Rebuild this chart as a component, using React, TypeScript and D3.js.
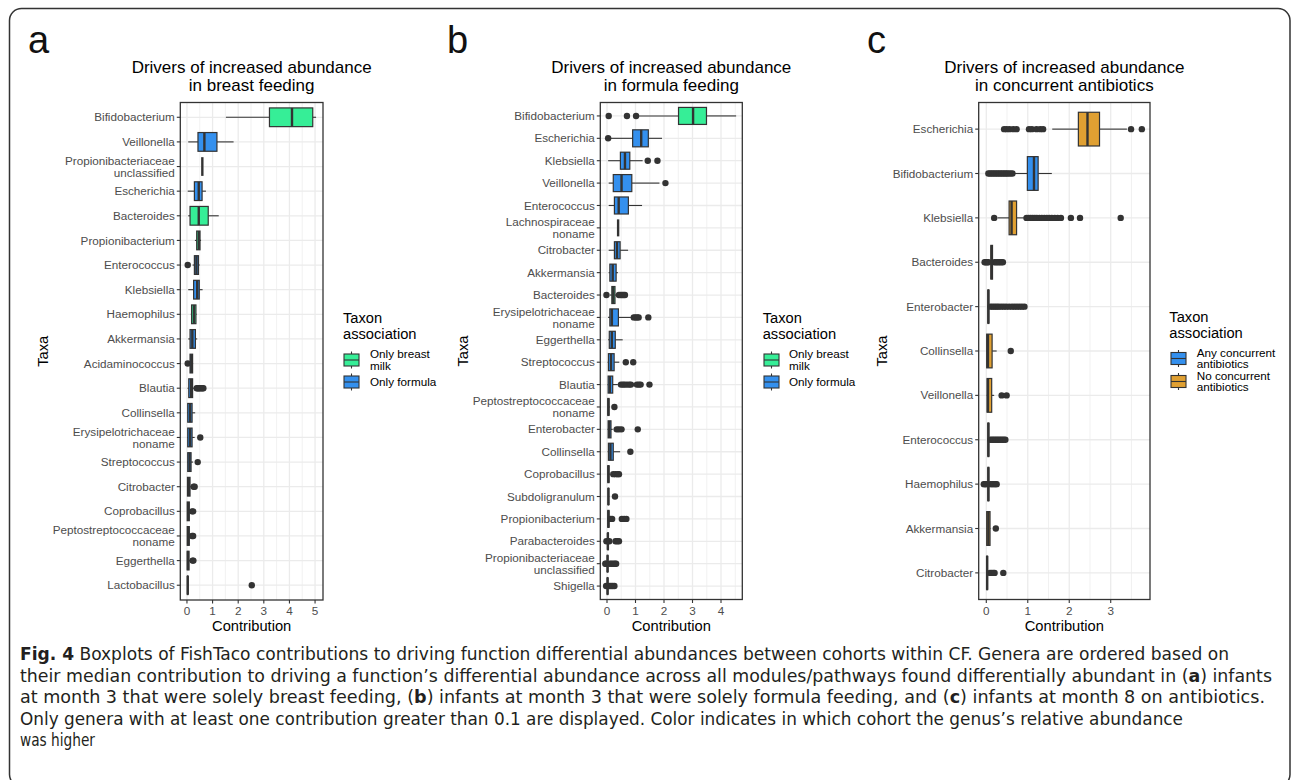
import React from 'react';
import * as d3 from 'd3';

const GREEN = '#36EE97';
const BLUE = '#3490EE';
const ORANGE = '#E0A032';
const FILLS: Record<string, string> = { breast: GREEN, formula: BLUE, any: BLUE, none: ORANGE };

// ---------- Panel a : breast feeding ----------
const taxaA = ['Bifidobacterium', 'Veillonella', 'Propionibacteriaceae\nunclassified', 'Escherichia', 'Bacteroides',
  'Propionibacterium', 'Enterococcus', 'Klebsiella', 'Haemophilus', 'Akkermansia', 'Acidaminococcus', 'Blautia',
  'Collinsella', 'Erysipelotrichaceae\nnoname', 'Streptococcus', 'Citrobacter', 'Coprobacillus',
  'Peptostreptococcaceae\nnoname', 'Eggerthella', 'Lactobacillus'];
const lowA = [1.52, 0.05, 0.6, 0.03, 0.05, 0.31, 0.22, 0.05, 0.15, 0.05, 0.08, 0.02, 0.0, 0.0, 0.0, 0.0, 0.0, 0.0, 0.0, 0.02];
const q1A = [3.22, 0.43, 0.6, 0.29, 0.12, 0.38, 0.29, 0.26, 0.18, 0.12, 0.12, 0.07, 0.03, 0.03, 0.03, 0.02, 0.01, 0.01, 0.01, 0.02];
const medA = [4.10, 0.68, 0.6, 0.46, 0.46, 0.46, 0.37, 0.40, 0.27, 0.21, 0.17, 0.16, 0.12, 0.12, 0.10, 0.07, 0.05, 0.05, 0.04, 0.03];
const q3A = [4.91, 1.17, 0.6, 0.59, 0.83, 0.51, 0.45, 0.48, 0.35, 0.33, 0.22, 0.22, 0.20, 0.20, 0.16, 0.12, 0.09, 0.09, 0.08, 0.04];
const highA = [5.04, 1.82, 0.6, 0.74, 1.24, 0.55, 0.50, 0.61, 0.38, 0.40, 0.24, 0.32, 0.32, 0.30, 0.24, 0.18, 0.14, 0.13, 0.12, 0.04];
const groupA = ['breast', 'formula', 'formula', 'formula', 'breast', 'breast', 'formula', 'formula', 'breast', 'formula',
  'formula', 'formula', 'formula', 'formula', 'formula', 'formula', 'formula', 'formula', 'formula', 'formula'];
const outA = [[], [], [], [], [], [], [0.03], [], [], [], [0.03], [0.38, 0.42, 0.46, 0.5, 0.55, 0.6, 0.64], [], [0.52],
  [0.42], [0.26, 0.3], [0.2, 0.24], [0.2, 0.24], [0.22, 0.25], [2.53]];
const ticksA = [0, 1, 2, 3, 4, 5];
const legendLabelsA = ['Only breast\nmilk', 'Only formula'];
const legendGroupsA = ['breast', 'formula'];

// ---------- Panel b : formula feeding ----------
const taxaB = ['Bifidobacterium', 'Escherichia', 'Klebsiella', 'Veillonella', 'Enterococcus', 'Lachnospiraceae\nnoname',
  'Citrobacter', 'Akkermansia', 'Bacteroides', 'Erysipelotrichaceae\nnoname', 'Eggerthella', 'Streptococcus', 'Blautia',
  'Peptostreptococcaceae\nnoname', 'Enterobacter', 'Collinsella', 'Coprobacillus', 'Subdoligranulum', 'Propionibacterium',
  'Parabacteroides', 'Propionibacteriaceae\nunclassified', 'Shigella'];
const lowB = [1.11, 0.14, 0.04, 0.06, 0.06, 0.39, 0.06, 0.06, 0.10, 0.04, 0.04, 0.02, 0.02, 0.02, 0.02, 0.02, 0.02, 0.03, 0.02, 0.01, 0.0, 0.0];
const q1B = [2.51, 0.90, 0.47, 0.22, 0.26, 0.39, 0.26, 0.10, 0.17, 0.10, 0.08, 0.05, 0.04, 0.03, 0.04, 0.05, 0.03, 0.04, 0.03, 0.02, 0.01, 0.01];
const medB = [3.02, 1.20, 0.63, 0.51, 0.41, 0.39, 0.35, 0.20, 0.22, 0.17, 0.17, 0.14, 0.10, 0.05, 0.08, 0.12, 0.05, 0.05, 0.05, 0.03, 0.02, 0.02];
const q3B = [3.49, 1.45, 0.80, 0.87, 0.75, 0.39, 0.46, 0.32, 0.28, 0.40, 0.29, 0.25, 0.20, 0.07, 0.14, 0.22, 0.07, 0.06, 0.07, 0.05, 0.03, 0.03];
const highB = [4.53, 1.93, 1.25, 1.84, 1.23, 0.39, 0.74, 0.38, 0.32, 0.84, 0.55, 0.43, 0.38, 0.10, 0.20, 0.46, 0.10, 0.08, 0.08, 0.06, 0.04, 0.04];
const groupB = ['breast', 'formula', 'formula', 'formula', 'formula', 'formula', 'formula', 'formula', 'breast', 'formula',
  'formula', 'formula', 'formula', 'formula', 'formula', 'formula', 'formula', 'formula', 'formula', 'formula', 'formula', 'formula'];
const outB = [[0.06, 0.70, 1.02], [0.04], [1.43, 1.77], [2.05], [], [], [], [], [-0.02, 0.42, 0.48, 0.53, 0.58, 0.63],
  [0.94, 1.0, 1.06, 1.11, 1.45], [], [0.66, 0.92], [0.49, 0.56, 0.62, 0.7, 0.78, 0.84, 1.05, 1.12, 1.18, 1.49], [0.26],
  [0.34, 0.42, 0.51, 1.08], [0.82], [0.22, 0.3, 0.38, 0.42], [0.28], [0.12, 0.18, 0.52, 0.6, 0.68],
  [-0.02, 0.08, 0.3, 0.36, 0.42], [-0.06, -0.03, 0.1, 0.16, 0.22, 0.28, 0.32], [-0.03, 0.08, 0.14, 0.2, 0.26]];
const ticksB = [0, 1, 2, 3, 4];
const legendLabelsB = ['Only breast\nmilk', 'Only formula'];
const legendGroupsB = ['breast', 'formula'];

// ---------- Panel c : concurrent antibiotics ----------
const taxaC = ['Escherichia', 'Bifidobacterium', 'Klebsiella', 'Bacteroides', 'Enterobacter', 'Collinsella', 'Veillonella',
  'Enterococcus', 'Haemophilus', 'Akkermansia', 'Citrobacter'];
const lowC = [1.59, 0.68, 0.27, 0.10, 0.03, 0.0, 0.01, 0.03, 0.03, 0.0, 0.0];
const q1C = [2.22, 0.99, 0.55, 0.11, 0.04, 0.01, 0.02, 0.04, 0.04, 0.01, 0.01];
const medC = [2.44, 1.15, 0.61, 0.13, 0.05, 0.04, 0.04, 0.05, 0.05, 0.05, 0.02];
const q3C = [2.73, 1.25, 0.73, 0.15, 0.06, 0.14, 0.13, 0.06, 0.06, 0.09, 0.03];
const highC = [3.39, 1.58, 0.93, 0.17, 0.07, 0.25, 0.19, 0.07, 0.07, 0.10, 0.05];
const groupC = ['none', 'any', 'none', 'none', 'none', 'none', 'none', 'none', 'none', 'none', 'none'];
const outC = [
  [0.43, 0.49, 0.56, 0.65, 0.73, 1.03, 1.1, 1.21, 1.3, 1.37, 3.49, 3.75],
  [0.05, 0.09, 0.13, 0.17, 0.21, 0.25, 0.29, 0.33, 0.37, 0.41, 0.45, 0.49, 0.53, 0.58, 0.63],
  [0.19, 0.97, 1.02, 1.07, 1.12, 1.17, 1.22, 1.28, 1.34, 1.4, 1.46, 1.52, 1.58, 1.65, 1.72, 1.8, 2.04, 2.26, 3.24],
  [-0.04, -0.01, 0.02, 0.05, 0.2, 0.24, 0.28, 0.32, 0.36, 0.4],
  [0.1, 0.15, 0.2, 0.25, 0.3, 0.36, 0.42, 0.48, 0.55, 0.62, 0.68, 0.74, 0.8, 0.86, 0.92],
  [0.59],
  [0.37, 0.49],
  [0.1, 0.14, 0.18, 0.22, 0.26, 0.3, 0.34, 0.38, 0.42, 0.46],
  [-0.06, -0.03, 0.0, 0.1, 0.14, 0.18, 0.22, 0.25],
  [0.23],
  [0.09, 0.13, 0.17, 0.2, 0.41]];
const ticksC = [0, 1, 2, 3];
const legendLabelsC = ['Any concurrent\nantibiotics', 'No concurrent\nantibiotics'];
const legendGroupsC = ['any', 'none'];

// ---------- Caption ----------
const captionLines: [string, boolean][][] = [
  [['Fig. 4', true], [' Boxplots of FishTaco contributions to driving function differential abundances between cohorts within CF. Genera are ordered based on', false]],
  [['their median contribution to driving a function\u2019s differential abundance across all modules/pathways found differentially abundant in (', false], ['a', true], [') infants', false]],
  [['at month 3 that were solely breast feeding, (', false], ['b', true], [') infants at month 3 that were solely formula feeding, and (', false], ['c', true], [') infants at month 8 on antibiotics.', false]],
  [['Only genera with at least one contribution greater than 0.1 are displayed. Color indicates in which cohort the genus\u2019s relative abundance', false]],
  [['was higher', false]],
];
const captionEnds = [1229, 1272, 1265, 1183, 95];

const FONT = "'Liberation Sans', Arial, Helvetica, sans-serif";
const DARK = '#333333';

const layouts = [
  { letter: 'a', letterX: 28, title: ['Drivers of increased abundance', 'in breast feeding'], x0: 180.3, x1: 323, y0: 102.5, y1: 600,
    dom: [-0.26, 5.31], taxaX: 42.7, legX: 343, keyX: 344, labX: 370, legTitleY: [323, 339], keyY: [360, 382] },
  { letter: 'b', letterX: 447, title: ['Drivers of increased abundance', 'in formula feeding'], x0: 600.3, x1: 742.3, y0: 102.5, y1: 599.5,
    dom: [-0.235, 4.747], taxaX: 462.7, legX: 762.7, keyX: 764, labX: 789, legTitleY: [323, 339], keyY: [360, 382] },
  { letter: 'c', letterX: 867, title: ['Drivers of increased abundance', 'in concurrent antibiotics'], x0: 978.7, x1: 1150, y0: 102.5, y1: 599.5,
    dom: [-0.183, 3.947], taxaX: 881.7, legX: 1169.3, keyX: 1171, labX: 1196.7, legTitleY: [322, 338], keyY: [358.5, 381.5] },
];

type PanelData = {
  taxa: string[]; low: number[]; q1: number[]; med: number[]; q3: number[]; high: number[];
  group: string[]; out: number[][]; ticks: number[]; legendLabels: string[]; legendGroups: string[];
};

const panelData: PanelData[] = [
  { taxa: taxaA, low: lowA, q1: q1A, med: medA, q3: q3A, high: highA, group: groupA, out: outA, ticks: ticksA, legendLabels: legendLabelsA, legendGroups: legendGroupsA },
  { taxa: taxaB, low: lowB, q1: q1B, med: medB, q3: q3B, high: highB, group: groupB, out: outB, ticks: ticksB, legendLabels: legendLabelsB, legendGroups: legendGroupsB },
  { taxa: taxaC, low: lowC, q1: q1C, med: medC, q3: q3C, high: highC, group: groupC, out: outC, ticks: ticksC, legendLabels: legendLabelsC, legendGroups: legendGroupsC },
];

function Panel({ L, D }: { L: any; D: PanelData }) {
  const x = d3.scaleLinear().domain(L.dom).range([L.x0, L.x1]);
  const y = d3.scalePoint<string>().domain(D.taxa).range([L.y0, L.y1]).padding(0.6);
  const bh = y.step() * 0.76;
  const minor = [D.ticks[0] - 0.5, ...D.ticks.map(t => t + 0.5)].filter(v => v > L.dom[0] && v < L.dom[1]);
  const cx = (L.x0 + L.x1) / 2;
  const cy = (L.y0 + L.y1) / 2;
  return (
    <g>
      <text x={L.letterX} y={53} fontSize={38} fontFamily={FONT} fill="#111">{L.letter}</text>
      {L.title.map((t: string, i: number) => (
        <text key={i} x={cx} y={73 + i * 18} textAnchor="middle" fontSize={17} fontFamily={FONT} fill="#000">{t}</text>
      ))}
      <rect x={L.x0} y={L.y0} width={L.x1 - L.x0} height={L.y1 - L.y0} fill="#fff" />
      {minor.map(v => <line key={'m' + v} x1={x(v)} x2={x(v)} y1={L.y0} y2={L.y1} stroke="#EBEBEB" strokeWidth={0.7} />)}
      {D.ticks.map(v => <line key={'g' + v} x1={x(v)} x2={x(v)} y1={L.y0} y2={L.y1} stroke="#EBEBEB" strokeWidth={1.3} />)}
      {D.taxa.map(t => <line key={'h' + t} x1={L.x0} x2={L.x1} y1={y(t)} y2={y(t)} stroke="#EBEBEB" strokeWidth={1.3} />)}
      {D.taxa.map((t, i) => {
        const yc = y(t) as number;
        return (
          <g key={'b' + t}>
            {D.out[i].map((o, j) => <circle key={j} cx={x(o)} cy={yc} r={3.2} fill={DARK} />)}
            <line x1={x(D.low[i])} x2={x(D.q1[i])} y1={yc} y2={yc} stroke={DARK} strokeWidth={1.1} />
            <line x1={x(D.q3[i])} x2={x(D.high[i])} y1={yc} y2={yc} stroke={DARK} strokeWidth={1.1} />
            <rect x={x(D.q1[i])} y={yc - bh / 2} width={Math.max(0, x(D.q3[i]) - x(D.q1[i]))} height={bh}
              fill={FILLS[D.group[i]]} stroke={DARK} strokeWidth={1.2} />
            <line x1={x(D.med[i])} x2={x(D.med[i])} y1={yc - bh / 2} y2={yc + bh / 2} stroke={DARK} strokeWidth={2.4} />
          </g>
        );
      })}
      <rect x={L.x0} y={L.y0} width={L.x1 - L.x0} height={L.y1 - L.y0} fill="none" stroke={DARK} strokeWidth={1.3} />
      {D.taxa.map(t => {
        const yc = y(t) as number;
        const lines = t.split('\n');
        return (
          <g key={'l' + t}>
            <line x1={L.x0 - 3.5} x2={L.x0} y1={yc} y2={yc} stroke={DARK} strokeWidth={1.1} />
            {lines.map((s, k) => (
              <text key={k} x={L.x0 - 5.5} y={yc + 4.1 + (k - (lines.length - 1) / 2) * 12} textAnchor="end"
                fontSize={11.7} fontFamily={FONT} fill="#4D4D4D">{s}</text>
            ))}
          </g>
        );
      })}
      {D.ticks.map(v => (
        <g key={'t' + v}>
          <line x1={x(v)} x2={x(v)} y1={L.y1} y2={L.y1 + 3.5} stroke={DARK} strokeWidth={1.1} />
          <text x={x(v)} y={614.5} textAnchor="middle" fontSize={11.7} fontFamily={FONT} fill="#4D4D4D">{v}</text>
        </g>
      ))}
      <text x={cx} y={631} textAnchor="middle" fontSize={14.7} fontFamily={FONT} fill="#000">Contribution</text>
      <text transform={`translate(${L.taxaX + 5},${cy}) rotate(-90)`} textAnchor="middle" fontSize={14.7} fontFamily={FONT} fill="#000">Taxa</text>
      <text x={L.legX} y={L.legTitleY[0]} fontSize={14.7} fontFamily={FONT} fill="#000">Taxon</text>
      <text x={L.legX} y={L.legTitleY[1]} fontSize={14.7} fontFamily={FONT} fill="#000">association</text>
      {D.legendLabels.map((lab, i) => {
        const ky = L.keyY[i];
        const lines = lab.split('\n');
        return (
          <g key={'k' + i}>
            <line x1={L.keyX + 7.5} x2={L.keyX + 7.5} y1={ky - 8.5} y2={ky + 8.5} stroke={DARK} strokeWidth={1.1} />
            <rect x={L.keyX} y={ky - 6} width={15} height={12} fill={FILLS[D.legendGroups[i]]} stroke={DARK} strokeWidth={1.1} />
            <line x1={L.keyX} x2={L.keyX + 15} y1={ky} y2={ky} stroke={DARK} strokeWidth={1.1} />
            {lines.map((s, k) => (
              <text key={k} x={L.labX} y={ky + 4.1 + (k - (lines.length - 1) / 2) * 11.7} fontSize={11.7} fontFamily={FONT} fill="#000">{s}</text>
            ))}
          </g>
        );
      })}
    </g>
  );
}

export default function App() {
  const W = 1292, H = 780;
  return (
    <svg width={W} height={H} viewBox={`0 0 ${W} ${H}`} style={{ position: 'absolute', left: 0, top: 0, display: 'block', background: '#fff' }}>
      <rect x={0} y={0} width={W} height={H} fill="#fff" />
      <rect x={9.5} y={8.5} width={1280.5} height={778} rx={12} ry={12} fill="none" stroke="#333" strokeWidth={1.5} />
      {layouts.map((L, i) => <Panel key={i} L={L} D={panelData[i]} />)}
      {captionLines.map((segs, i) => (
        <text key={i} x={20} y={660 + i * 21.5} fontSize={18.5} textLength={captionEnds[i] - 20} lengthAdjust="spacingAndGlyphs"
          fontFamily="'Liberation Sans Narrow', 'DejaVu Sans Condensed', 'Roboto Condensed', 'Liberation Sans', sans-serif" fill="#231F20">
          {segs.map(([s, b], k) => <tspan key={k} fontWeight={b ? 'bold' : 'normal'}>{s}</tspan>)}
        </text>
      ))}
    </svg>
  );
}
